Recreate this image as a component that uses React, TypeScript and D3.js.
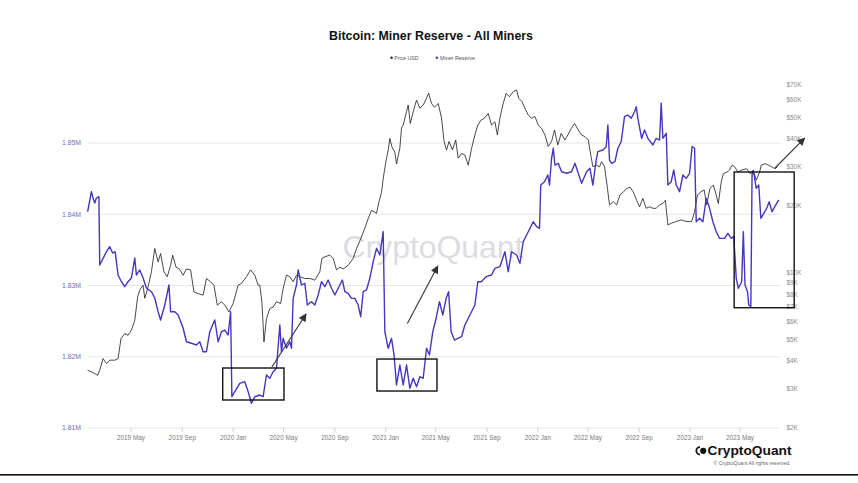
import React from "react";
import * as d3 from "d3";

// ---------- DATA ----------
const xTickDates = ["2019-05-01","2019-09-01","2020-01-01","2020-05-01","2020-09-01","2021-01-01","2021-05-01","2021-09-01","2022-01-01","2022-05-01","2022-09-01","2023-01-01","2023-05-01"];
const xTickLabels = ["2019 May","2019 Sep","2020 Jan","2020 May","2020 Sep","2021 Jan","2021 May","2021 Sep","2022 Jan","2022 May","2022 Sep","2023 Jan","2023 May"];
const reserveTicks = [1810000, 1820000, 1830000, 1840000, 1850000];
const reserveTickLabels = ["1.81M", "1.82M", "1.83M", "1.84M", "1.85M"];
const priceTicks = [2000, 3000, 4000, 5000, 6000, 7000, 8000, 9000, 10000, 20000, 30000, 40000, 50000, 60000, 70000];
const priceTickLabels = ["$2K","$3K","$4K","$5K","$6K","$7K","$8K","$9K","$10K","$20K","$30K","$40K","$50K","$60K","$70K"];

const priceSeries: [string, number][] = [
["2019-01-17",3640],["2019-01-26",3580],["2019-02-03",3520],["2019-02-10",3450],["2019-02-15",3640],["2019-02-23",4110],["2019-03-03",3900],["2019-03-11",4040],["2019-03-23",4040],["2019-03-31",4110],["2019-04-07",5050],["2019-04-16",5320],["2019-04-24",5230],["2019-05-02",5510],["2019-05-10",6110],["2019-05-17",7800],["2019-05-22",8350],["2019-05-30",8790],["2019-06-03",7670],["2019-06-11",8640],["2019-06-19",10100],["2019-06-27",12850],["2019-07-05",11200],["2019-07-11",12200],["2019-07-19",10100],["2019-07-27",9600],["2019-08-04",10800],["2019-08-09",12000],["2019-08-17",10600],["2019-08-25",10400],["2019-09-03",9750],["2019-09-11",10400],["2019-09-21",10300],["2019-09-29",8200],["2019-10-09",8050],["2019-10-21",7930],["2019-10-29",9420],["2019-11-08",9100],["2019-11-16",8790],["2019-11-24",7150],["2019-12-04",7400],["2019-12-12",7150],["2019-12-22",6660],
["2020-01-01",7270],["2020-01-13",8790],["2020-01-21",8940],["2020-02-02",9600],["2020-02-12",10300],["2020-02-22",9750],["2020-03-01",8790],["2020-03-05",8790],["2020-03-10",7400],["2020-03-15",4880],["2020-03-21",6220],["2020-03-29",6900],["2020-04-06",7000],["2020-04-14",7400],["2020-04-24",7270],["2020-04-30",8500],["2020-05-08",9750],["2020-05-16",9600],["2020-05-24",9100],["2020-06-01",9750],["2020-06-09",9600],["2020-06-21",9420],["2020-07-03",9420],["2020-07-15",9260],["2020-07-27",10100],["2020-08-01",11600],["2020-08-08",11800],["2020-08-20",12000],["2020-08-28",11600],["2020-09-05",10300],["2020-09-13",10600],["2020-09-21",10400],["2020-10-03",10800],["2020-10-15",11600],["2020-10-23",12850],["2020-11-02",14200],["2020-11-12",15900],["2020-11-20",17500],["2020-11-28",19100],["2020-12-04",18800],["2020-12-10",18500],["2020-12-16",20900],["2020-12-22",23000],["2020-12-26",26500],
["2021-01-01",31300],["2021-01-07",35700],["2021-01-11",40200],["2021-01-16",36800],["2021-01-23",34900],["2021-01-27",30900],["2021-02-04",36400],["2021-02-08",44900],["2021-02-12",46200],["2021-02-20",53100],["2021-02-24",56900],["2021-03-01",47000],["2021-03-08",53000],["2021-03-16",59900],["2021-03-24",55000],["2021-04-01",56900],["2021-04-09",61000],["2021-04-14",64300],["2021-04-21",57800],["2021-04-28",55600],["2021-05-07",57800],["2021-05-15",49700],["2021-05-21",39000],["2021-05-27",35700],["2021-06-02",39000],["2021-06-10",35700],["2021-06-18",39600],["2021-06-24",32800],["2021-07-02",34400],["2021-07-10",33900],["2021-07-18",30500],["2021-07-26",36300],["2021-08-03",41700],["2021-08-10",46200],["2021-08-18",48700],["2021-08-26",49600],["2021-09-04",52100],["2021-09-12",46200],["2021-09-20",47800],["2021-09-26",41700],["2021-10-02",49600],["2021-10-09",56900],["2021-10-17",64200],["2021-10-25",62000],["2021-11-03",65300],["2021-11-11",66500],["2021-11-16",61000],["2021-11-24",58900],["2021-12-01",55000],["2021-12-09",51300],["2021-12-17",49600],["2021-12-25",50500],
["2022-01-02",46200],["2022-01-10",44600],["2022-01-18",41700],["2022-01-26",37000],["2022-02-03",39000],["2022-02-10",43900],["2022-02-18",37600],["2022-02-26",42400],["2022-03-07",39600],["2022-03-14",41700],["2022-03-22",44600],["2022-03-30",47000],["2022-04-08",43900],["2022-04-16",41700],["2022-04-24",41000],["2022-05-02",39600],["2022-05-08",33900],["2022-05-13",30000],["2022-05-21",30500],["2022-05-29",30000],["2022-06-03",31600],["2022-06-10",30000],["2022-06-17",24000],["2022-06-22",20200],["2022-07-01",20900],["2022-07-09",20200],["2022-07-17",22400],["2022-07-25",23100],["2022-08-02",23900],["2022-08-10",24300],["2022-08-18",23100],["2022-08-26",21200],["2022-09-02",19800],["2022-09-10",21600],["2022-09-18",19500],["2022-09-26",19800],["2022-10-04",19500],["2022-10-12",19500],["2022-10-20",20200],["2022-10-28",20500],["2022-11-03",21200],["2022-11-09",16400],["2022-11-17",16700],["2022-11-29",17000],["2022-12-11",17300],["2022-12-23",17000],
["2023-01-05",17000],["2023-01-12",18800],["2023-01-19",22400],["2023-01-27",23100],["2023-02-04",23600],["2023-02-10",20200],["2023-02-18",24000],["2023-02-26",24800],["2023-03-03",23100],["2023-03-10",20500],["2023-03-17",25600],["2023-03-22",27900],["2023-03-31",28400],["2023-04-06",29000],["2023-04-12",30500],["2023-04-18",30000],["2023-04-26",28400],["2023-05-05",29000],["2023-05-17",29400],["2023-05-25",27900],["2023-06-02",29000],["2023-06-09",26100],["2023-06-17",28400],["2023-06-21",30500],["2023-07-01",31000],["2023-07-08",30500],["2023-07-16",30000],["2023-07-24",29400],["2023-07-30",30000]
];

const reserveSeries: [string, number][] = [
["2019-01-17",1840360],["2019-01-26",1843170],["2019-01-30",1842280],["2019-02-03",1841580],["2019-02-07",1842280],["2019-02-13",1842460],["2019-02-15",1832880],["2019-02-19",1833340],["2019-03-03",1834740],["2019-03-11",1835450],["2019-03-18",1834560],["2019-03-24",1834740],["2019-03-31",1831470],["2019-04-08",1830530],["2019-04-16",1829830],["2019-04-24",1830530],["2019-05-02",1831050],["2019-05-10",1833860],["2019-05-14",1831470],["2019-05-22",1832180],["2019-05-30",1831050],["2019-06-07",1829650],["2019-06-19",1829130],["2019-06-27",1828250],["2019-07-05",1826320],["2019-07-11",1825160],["2019-07-21",1827260],["2019-07-31",1830070],["2019-08-04",1826320],["2019-08-14",1826320],["2019-08-22",1825860],["2019-09-03",1824040],["2019-09-11",1822110],["2019-09-23",1821890],["2019-10-05",1821650],["2019-10-13",1822110],["2019-10-21",1820710],["2019-10-29",1820710],["2019-11-06",1823520],["2019-11-18",1825160],["2019-11-26",1822110],["2019-12-04",1823520],["2019-12-12",1823750],["2019-12-20",1823050],["2019-12-26",1826320],["2019-12-29",1814390],
["2020-01-05",1815100],["2020-01-17",1816270],["2020-01-29",1816500],["2020-02-06",1815100],["2020-02-14",1813470],["2020-02-22",1814390],["2020-03-05",1814630],["2020-03-13",1814390],["2020-03-21",1817440],["2020-03-29",1816980],["2020-04-06",1817900],["2020-04-14",1818380],["2020-04-22",1824460],["2020-04-26",1820710],["2020-04-30",1822590],["2020-05-08",1821190],["2020-05-16",1822110],["2020-05-20",1821190],["2020-05-24",1828200],["2020-06-01",1830070],["2020-06-05",1832180],["2020-06-13",1830070],["2020-06-21",1830310],["2020-06-27",1827260],["2020-07-07",1827730],["2020-07-15",1827260],["2020-07-23",1828670],["2020-07-31",1830530],["2020-08-08",1829830],["2020-08-16",1830770],["2020-08-24",1829610],["2020-09-01",1828670],["2020-09-09",1829610],["2020-09-19",1830770],["2020-09-25",1829130],["2020-10-03",1828910],["2020-10-11",1828200],["2020-10-19",1828200],["2020-10-27",1827260],["2020-11-02",1825620],["2020-11-08",1829130],["2020-11-16",1829370],["2020-11-24",1831010],["2020-12-02",1833340],["2020-12-10",1835220],["2020-12-18",1834280],["2020-12-26",1837550],["2020-12-30",1823520],
["2021-01-07",1821190],["2021-01-15",1822590],["2021-01-21",1820250],["2021-01-27",1816040],["2021-02-04",1818840],["2021-02-12",1816040],["2021-02-20",1818840],["2021-02-28",1815570],["2021-03-08",1816980],["2021-03-16",1815800],["2021-03-24",1817200],["2021-04-01",1816980],["2021-04-09",1821190],["2021-04-16",1820250],["2021-04-24",1823520],["2021-05-02",1825400],["2021-05-10",1827730],["2021-05-18",1825860],["2021-05-26",1828200],["2021-06-01",1829130],["2021-06-07",1823520],["2021-06-15",1822350],["2021-06-23",1822590],["2021-07-02",1822810],["2021-07-10",1824460],["2021-07-22",1825860],["2021-08-03",1827260],["2021-08-10",1830530],["2021-08-18",1830530],["2021-08-30",1831240],["2021-09-12",1831470],["2021-09-20",1832410],["2021-10-02",1832640],["2021-10-14",1834740],["2021-10-22",1831940],["2021-10-30",1834740],["2021-11-11",1834280],["2021-11-19",1833120],["2021-11-27",1836150],["2021-12-09",1837550],["2021-12-21",1838950],["2021-12-29",1838250],
["2022-01-05",1838030],["2022-01-08",1844100],["2022-01-17",1844570],["2022-01-25",1845510],["2022-01-29",1844100],["2022-02-03",1847850],["2022-02-07",1849260],["2022-02-11",1846910],["2022-02-19",1847150],["2022-02-27",1845970],["2022-03-11",1845750],["2022-03-23",1845970],["2022-03-31",1847150],["2022-04-08",1845750],["2022-04-16",1844340],["2022-04-28",1845970],["2022-05-06",1846450],["2022-05-13",1844100],["2022-05-21",1847610],["2022-05-25",1848780],["2022-06-06",1849020],["2022-06-14",1849480],["2022-06-18",1852530],["2022-06-22",1847610],["2022-06-27",1847150],["2022-07-05",1847380],["2022-07-12",1849260],["2022-07-20",1850180],["2022-07-28",1853690],["2022-08-05",1853930],["2022-08-13",1853470],["2022-08-21",1854390],["2022-08-25",1855090],["2022-08-29",1853470],["2022-09-07",1850660],["2022-09-14",1851820],["2022-09-22",1850660],["2022-10-04",1849720],["2022-10-12",1850660],["2022-10-20",1850420],["2022-10-24",1855570],["2022-10-28",1850660],["2022-11-05",1851360],["2022-11-09",1844100],["2022-11-17",1844570],["2022-11-23",1846210],["2022-11-29",1844100],["2022-12-07",1843170],["2022-12-15",1845510],["2022-12-23",1845050],["2022-12-31",1845750],
["2023-01-06",1849480],["2023-01-12",1849260],["2023-01-16",1838950],["2023-01-24",1839430],["2023-02-01",1838950],["2023-02-09",1842240],["2023-02-17",1840830],["2023-02-25",1838950],["2023-03-05",1837550],["2023-03-13",1836620],["2023-03-25",1836620],["2023-04-02",1837330],["2023-04-10",1836620],["2023-04-16",1836850],["2023-04-22",1831010],["2023-04-27",1829610],["2023-05-05",1830530],["2023-05-09",1837550],["2023-05-13",1830070],["2023-05-19",1829130],["2023-05-22",1827260],["2023-05-27",1827020],["2023-05-30",1845970],["2023-06-04",1845510],["2023-06-09",1843640],["2023-06-15",1844100],["2023-06-20",1839430],["2023-06-25",1839900],["2023-07-04",1840830],["2023-07-10",1841760],["2023-07-17",1840360],["2023-07-28",1841540],["2023-08-02",1842000]
];

// annotation boxes and arrows, in data space (date, miner reserve)
const annotationBoxes: [string, string, number, number][] = [
  ["2019-12-07", "2020-05-02", 1813930, 1818420],
  ["2020-12-11", "2021-05-04", 1815190, 1819680],
  ["2023-04-17", "2023-09-08", 1826880, 1845930],
];
const annotationArrows: [string, number, string, number][] = [
  ["2020-04-03", 1818560, "2020-06-24", 1826000],
  ["2021-02-22", 1824670, "2021-05-06", 1832740],
  ["2023-07-24", 1846490, "2023-10-03", 1850700],
];

// ---------- CHART ----------
const W = 858, H = 483;
const parse = d3.timeParse("%Y-%m-%d");
const FONT = "'Liberation Sans', Arial, Helvetica, sans-serif";

const x = d3.scaleTime()
  .domain([parse("2019-05-01")!, parse("2023-05-01")!])
  .range([131, 740]);
const yL = d3.scaleLinear().domain([1810000, 1850000]).range([428, 143]);
const yR = d3.scaleLog().domain([2000, 70000]).range([428, 85]);

const plotLeft = 88, plotRight = 780;

export default function App() {
  const reserveLine = d3.line<[string, number]>()
    .x(d => x(parse(d[0])!))
    .y(d => yL(d[1]))(reserveSeries) || "";
  const priceLine = d3.line<[string, number]>()
    .x(d => x(parse(d[0])!))
    .y(d => yR(d[1]))(priceSeries) || "";

  return (
    <svg width={W} height={H} viewBox={`0 0 ${W} ${H}`}
      style={{ position: "absolute", left: 0, top: 0, background: "#fff", fontFamily: FONT }}>
      <defs>
        <marker id="ah" viewBox="0 0 10 10" refX="9" refY="5" markerUnits="userSpaceOnUse"
          markerWidth="9" markerHeight="8" orient="auto">
          <path d="M0,0 L10,5 L0,10 z" fill="#333" />
        </marker>
      </defs>
      <rect x={0} y={0} width={W} height={H} fill="#fff" />

      {/* title */}
      <text x={431} y={40} textAnchor="middle" fontSize={12} fontWeight="bold" fill="#111"
        textLength={204} lengthAdjust="spacingAndGlyphs">Bitcoin: Miner Reserve - All Miners</text>

      {/* legend */}
      <circle cx={391.6} cy={57.7} r={1.2} fill="#222" />
      <text x={394.3} y={59.5} fontSize={5.2} fill="#555">Price USD</text>
      <circle cx={436.8} cy={57.7} r={1.2} fill="#3a2fb0" />
      <text x={440} y={59.5} fontSize={5.4} fill="#555">Miner Reserve</text>

      {/* gridlines */}
      {reserveTicks.map(t => (
        <line key={t} x1={plotLeft} x2={plotRight} y1={yL(t)} y2={yL(t)} stroke="#e6e6e6" strokeWidth={1} />
      ))}

      {/* watermark */}
      <text x={433} y={258} textAnchor="middle" fontSize={32} fill="#dcdce2"
        textLength={181} lengthAdjust="spacingAndGlyphs">CryptoQuant</text>

      {/* left axis labels */}
      {reserveTicks.map((t, i) => (
        <text key={t} x={81} y={yL(t) + 2.4} textAnchor="end" fontSize={6.8} fill="#6d6dbb">{reserveTickLabels[i]}</text>
      ))}

      {/* right axis labels */}
      {priceTicks.map((t, i) => (
        <text key={t} x={786.5} y={yR(t) + 2.3} textAnchor="start" fontSize={6.4} fill="#8c8c8c">{priceTickLabels[i]}</text>
      ))}

      {/* x axis */}
      {xTickDates.map((d, i) => {
        const xx = x(parse(d)!);
        return (
          <g key={d}>
            <line x1={xx} x2={xx} y1={428} y2={432} stroke="#d0d0d0" strokeWidth={1} />
            <text x={xx} y={440} textAnchor="middle" fontSize={6.4} fill="#7a7a7a">{xTickLabels[i]}</text>
          </g>
        );
      })}

      {/* series */}
      <path d={priceLine} fill="none" stroke="#1a1a1a" strokeWidth={0.8} strokeLinejoin="round" />
      <path d={reserveLine} fill="none" stroke="#4536c0" strokeWidth={1.4} strokeLinejoin="round" />

      {/* annotation boxes */}
      {annotationBoxes.map((b, i) => {
        const x0 = x(parse(b[0])!), x1 = x(parse(b[1])!);
        const y0 = yL(b[3]), y1 = yL(b[2]);
        return <rect key={i} x={x0} y={y0} width={x1 - x0} height={y1 - y0} fill="none" stroke="#111" strokeWidth={1.4} />;
      })}
      {/* annotation arrows */}
      {annotationArrows.map((a, i) => (
        <line key={i} x1={x(parse(a[0])!)} y1={yL(a[1])} x2={x(parse(a[2])!)} y2={yL(a[3])}
          stroke="#333" strokeWidth={1.1} markerEnd="url(#ah)" />
      ))}

      {/* logo */}
      <path d="M700,446.2 A4.6,4.6 0 0 0 700,455.4 L700,453.6 A2.8,2.8 0 0 1 700,448 Z" fill="#111" />
      <circle cx={703.2} cy={450.8} r={3.1} fill="#111" />
      <text x={707.5} y={454.6} fontSize={12.5} fontWeight={600} fill="#111"
        textLength={84} lengthAdjust="spacingAndGlyphs">CryptoQuant</text>
      <text x={713.5} y={465} fontSize={4.8} fill="#666"
        textLength={77} lengthAdjust="spacingAndGlyphs">© CryptoQuant All rights reserved.</text>

      {/* bottom rule */}
      <rect x={0} y={474} width={W} height={1.6} fill="#111" />
    </svg>
  );
}
